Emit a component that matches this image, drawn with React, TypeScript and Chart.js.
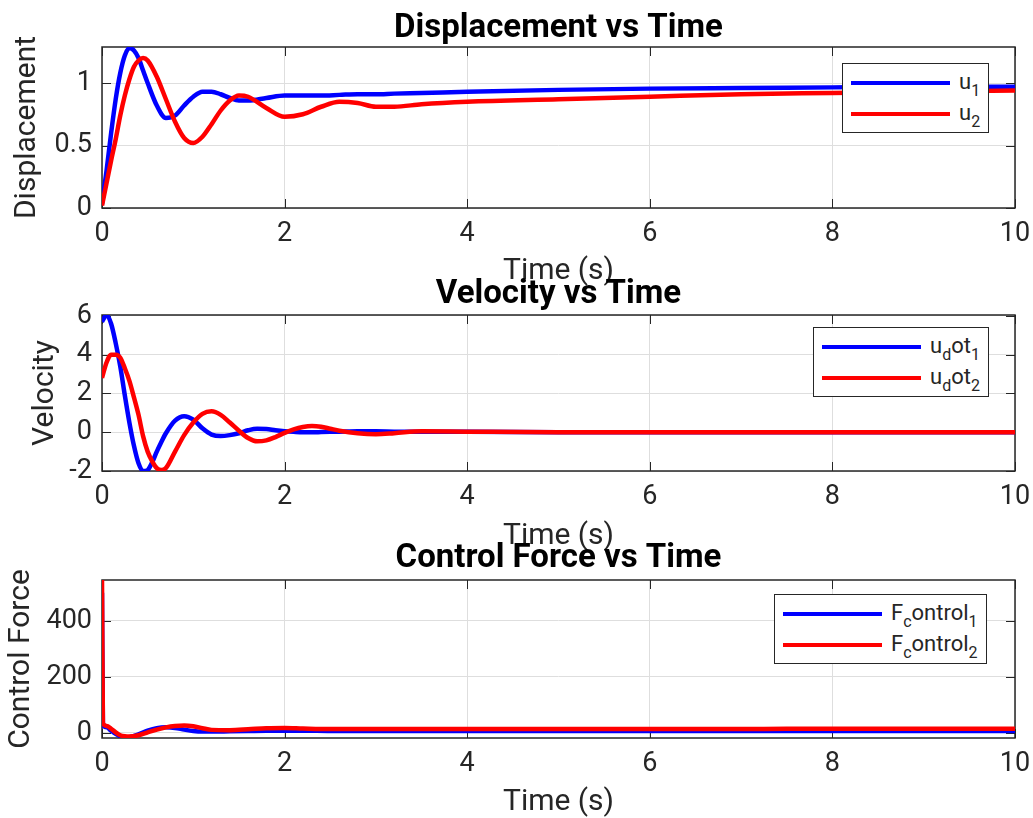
import React, { useEffect, useRef } from 'react';
import { Chart, registerables } from 'chart.js';

Chart.register(...registerables);

// ---------- DATA ----------
const tDisp = [0, 0.05, 0.1, 0.15, 0.2, 0.25, 0.3, 0.35, 0.4, 0.45, 0.5, 0.6, 0.7, 0.8, 0.9, 1.0, 1.1, 1.2, 1.3, 1.4, 1.5, 1.6, 1.8, 2.0, 2.2, 2.4, 2.6, 2.8, 3.0, 3.2, 3.5, 4, 5, 6, 7, 8, 9, 10];
const u1 = [0.03, 0.3, 0.6, 0.87, 1.08, 1.22, 1.28, 1.26, 1.2, 1.1, 1.0, 0.82, 0.72, 0.74, 0.82, 0.89, 0.93, 0.93, 0.91, 0.88, 0.86, 0.86, 0.88, 0.9, 0.9, 0.9, 0.905, 0.91, 0.91, 0.915, 0.92, 0.93, 0.945, 0.955, 0.96, 0.965, 0.97, 0.97];
const u2 = [0.02, 0.2, 0.38, 0.55, 0.74, 0.9, 1.03, 1.13, 1.18, 1.2, 1.18, 1.05, 0.87, 0.69, 0.56, 0.52, 0.57, 0.67, 0.78, 0.86, 0.9, 0.89, 0.8, 0.73, 0.75, 0.81, 0.85, 0.84, 0.81, 0.81, 0.83, 0.85, 0.87, 0.89, 0.91, 0.92, 0.93, 0.94];

const tVel = [0, 0.05, 0.1, 0.15, 0.2, 0.25, 0.3, 0.35, 0.4, 0.45, 0.5, 0.55, 0.6, 0.65, 0.7, 0.8, 0.9, 1.0, 1.1, 1.2, 1.3, 1.4, 1.5, 1.6, 1.7, 1.8, 1.9, 2.0, 2.1, 2.2, 2.3, 2.4, 2.5, 2.6, 2.8, 3.0, 3.2, 3.5, 4, 5, 6, 7, 8, 9, 10];
const uDot1 = [5.7, 6.05, 5.6, 4.6, 3.4, 1.9, 0.5, -0.7, -1.6, -2.0, -1.95, -1.55, -1.0, -0.5, -0.05, 0.6, 0.83, 0.65, 0.2, -0.12, -0.2, -0.15, -0.05, 0.1, 0.18, 0.17, 0.1, 0.05, 0.02, 0, 0, 0.01, 0.02, 0.03, 0.05, 0.05, 0.03, 0.02, 0.02, 0, 0, 0, 0, 0, 0];
const uDot2 = [2.8, 3.6, 4.0, 4.0, 3.85, 3.3, 2.65, 1.8, 0.9, -0.2, -1.0, -1.5, -1.85, -1.95, -1.85, -1.0, -0.15, 0.5, 0.95, 1.08, 0.9, 0.5, 0.08, -0.3, -0.47, -0.42, -0.25, -0.03, 0.15, 0.27, 0.32, 0.28, 0.18, 0.08, -0.05, -0.1, -0.05, 0.05, 0.03, 0, 0, 0, 0, 0, 0];

const tForce = [0, 0.01, 0.05, 0.1, 0.15, 0.2, 0.25, 0.3, 0.4, 0.5, 0.6, 0.7, 0.8, 0.9, 1.0, 1.1, 1.2, 1.4, 1.6, 1.8, 2.0, 2.2, 2.5, 3, 4, 5, 6, 7, 7.5, 8, 9, 10];
const fControl1 = [500, 30, 20, 8, -3, -12, -17, -15, -5, 8, 17, 20, 18, 12, 7, 5, 5, 6, 7, 8, 8, 8, 7, 7, 7, 7, 7, 7, 7, 7, 7, 7];
const fControl2 = [546, 35, 25, 15, 2, -8, -12, -13, -8, 2, 12, 20, 25, 27, 24, 17, 11, 10, 13, 17, 18, 16, 14, 14, 14, 14, 14, 14, 15, 15, 15, 15];

const xTicks = [0, 2, 4, 6, 8, 10];
const dispTicks = [0, 0.5, 1];
const velTicks = [-2, 0, 2, 4, 6];
const forceTicks = [0, 200, 400];

const seriesColors = ['#0000ff', '#ff0000'];
const legendDisp = [[['u', '1']], [['u', '2']]];
const legendVel = [[['u', 'd'], ['ot', '1']], [['u', 'd'], ['ot', '2']]];
const legendForce = [[['F', 'c'], ['ontrol', '1']], [['F', 'c'], ['ontrol', '2']]];

// ---------- LAYOUT ----------
const W = 1033;
const H = 818;
const PLOT_LEFT = 102;
const PLOT_RIGHT = 1015;
const FONT = 'Roboto';
const TEXT = '#262626';

const panels = [
  {
    title: 'Displacement vs Time', yLabel: 'Displacement', t: tDisp, s1: u1, s2: u2,
    yMin: 0, yMax: 1.288, yTicks: dispTicks, top: 47, bottom: 208, titleY: 29, xLabelY: 271, yLabelX: 27,
    legend: { left: 842, top: 63, labels: legendDisp },
  },
  {
    title: 'Velocity vs Time', yLabel: 'Velocity', t: tVel, s1: uDot1, s2: uDot2,
    yMin: -2.0, yMax: 6.05, yTicks: velTicks, top: 315, bottom: 471, titleY: 295, xLabelY: 536, yLabelX: 45,
    legend: { left: 813, top: 327, labels: legendVel },
  },
  {
    title: 'Control Force vs Time', yLabel: 'Control Force', t: tForce, s1: fControl1, s2: fControl2,
    yMin: -18, yMax: 546, yTicks: forceTicks, top: 580, bottom: 738, titleY: 559, xLabelY: 802, yLabelX: 21.5,
    legend: { left: 774, top: 594, labels: legendForce },
  },
];

const boxPlugin = {
  id: 'matlabBox',
  beforeDatasetsDraw(chart: any) {
    const { ctx, chartArea: a, scales } = chart;
    const tl = 9;
    ctx.save();
    ctx.strokeStyle = TEXT;
    ctx.lineWidth = 1;
    ctx.beginPath();
    scales.x.ticks.forEach((tk: any) => {
      const px = Math.round(scales.x.getPixelForValue(tk.value)) + 0.5;
      ctx.moveTo(px, a.bottom); ctx.lineTo(px, a.bottom - tl);
      ctx.moveTo(px, a.top); ctx.lineTo(px, a.top + tl);
    });
    scales.y.ticks.forEach((tk: any) => {
      const py = Math.round(scales.y.getPixelForValue(tk.value)) + 0.5;
      ctx.moveTo(a.left, py); ctx.lineTo(a.left + tl, py);
      ctx.moveTo(a.right, py); ctx.lineTo(a.right - tl, py);
    });
    ctx.stroke();
    ctx.lineWidth = 1.5;
    ctx.strokeRect(a.left, a.top, a.right - a.left, a.bottom - a.top);
    ctx.restore();
  },
};

function Panel({ p }: { p: any }) {
  const ref = useRef<HTMLCanvasElement>(null);
  useEffect(() => {
    const canvas = ref.current!;
    const titleL = 33;
    const axisL = 30;
    const padTop = p.titleY - titleL / 2;
    const titleGap = p.top - padTop - titleL;
    const xAxisH = p.xLabelY + axisL / 2 - p.bottom;
    const padBottom = H - p.bottom - xAxisH;
    const mk = (ys: number[], color: string, label: string, order: number) => ({
      label,
      order,
      data: p.t.map((x: number, i: number) => ({ x, y: ys[i] })),
      borderColor: color,
      backgroundColor: color,
      borderWidth: 4.5,
      pointRadius: 0,
      fill: false,
      cubicInterpolationMode: 'monotone',
    });
    const chart = new Chart(canvas, {
      type: 'line',
      data: { datasets: [mk(p.s1, seriesColors[0], 'series1', 1), mk(p.s2, seriesColors[1], 'series2', 0)] as any },
      plugins: [boxPlugin],
      options: {
        animation: false,
        responsive: false,
        devicePixelRatio: 1,
        events: [],
        layout: { padding: { top: padTop, bottom: padBottom, left: 0, right: W - PLOT_RIGHT } },
        plugins: {
          legend: { display: false },
          tooltip: { enabled: false },
          title: {
            display: true,
            text: p.title,
            fullSize: false,
            color: '#000',
            font: { family: FONT, size: 33, weight: 'bold', lineHeight: 1 },
            padding: { top: 0, bottom: titleGap },
          },
        },
        scales: {
          x: {
            type: 'linear',
            min: 0,
            max: 10,
            afterBuildTicks: (s: any) => { s.ticks = xTicks.map((v) => ({ value: v })); },
            afterFit: (s: any) => { s.height = xAxisH; s.paddingLeft = 0; s.paddingRight = 0; },
            ticks: { color: TEXT, font: { family: FONT, size: 27 }, padding: 10, maxRotation: 0, autoSkip: false, callback: (v: any) => String(v) },
            grid: { color: '#dedede', lineWidth: 1, drawTicks: false },
            border: { display: false },
            title: { display: true, text: 'Time (s)', color: TEXT, font: { family: FONT, size: 30, lineHeight: 1 }, padding: { top: 0, bottom: 0 } },
          },
          y: {
            type: 'linear',
            min: p.yMin,
            max: p.yMax,
            afterBuildTicks: (s: any) => { s.ticks = p.yTicks.map((v: number) => ({ value: v })); },
            afterFit: (s: any) => { s.width = PLOT_LEFT; s.paddingTop = 0; s.paddingBottom = 0; },
            ticks: { color: TEXT, font: { family: FONT, size: 27 }, padding: 10, autoSkip: false, callback: (v: any) => String(v) },
            grid: { color: '#dedede', lineWidth: 1, drawTicks: false },
            border: { display: false },
            title: { display: true, text: p.yLabel, color: TEXT, font: { family: FONT, size: 30, lineHeight: 1 }, padding: { top: p.yLabelX - axisL / 2, bottom: 0 } },
          },
        },
      } as any,
    });
    return () => chart.destroy();
  }, [p]);
  return <canvas ref={ref} width={W} height={H} style={{ position: 'absolute', left: 0, top: 0, width: W, height: H }} />;
}

function Legend({ left, top, labels }: { left: number; top: number; labels: string[][][] }) {
  return (
    <div style={{ position: 'absolute', left, top, background: '#fff', border: `1px solid ${TEXT}`, padding: '3px 8px', fontFamily: FONT, fontSize: 22, color: TEXT }}>
      {labels.map((parts, i) => (
        <div key={i} style={{ display: 'flex', alignItems: 'center', height: 31 }}>
          <div style={{ width: 99, height: 4, background: seriesColors[i], marginRight: 9 }} />
          <span style={{ whiteSpace: 'nowrap', lineHeight: '22px' }}>
            {parts.map(([main, sub], j) => (
              <React.Fragment key={j}>
                {main}
                <span style={{ fontSize: 16, position: 'relative', top: 7 }}>{sub}</span>
              </React.Fragment>
            ))}
          </span>
        </div>
      ))}
    </div>
  );
}

export default function App() {
  return (
    <div style={{ position: 'absolute', left: 0, top: 0, width: W, height: H, background: '#fff', overflow: 'hidden' }}>
      {panels.map((p, i) => <Panel key={i} p={p} />)}
      {panels.map((p, i) => <Legend key={'l' + i} {...p.legend} />)}
    </div>
  );
}
